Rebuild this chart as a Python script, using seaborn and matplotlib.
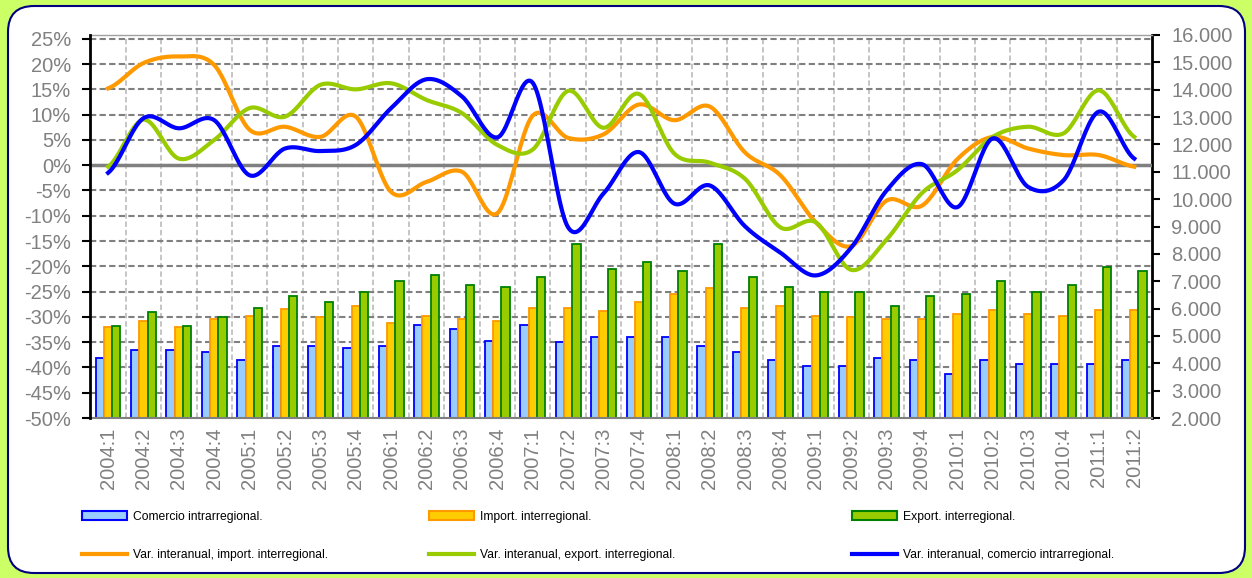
import numpy as np
import pandas as pd
import matplotlib
matplotlib.use("Agg")
import matplotlib.pyplot as plt
import seaborn as sns
from matplotlib.patches import FancyBboxPatch, Patch
from matplotlib.lines import Line2D
from matplotlib.ticker import FuncFormatter
from matplotlib.transforms import IdentityTransform

# datos
periodos = ["2004:1", "2004:2", "2004:3", "2004:4", "2005:1", "2005:2", "2005:3", "2005:4",
            "2006:1", "2006:2", "2006:3", "2006:4", "2007:1", "2007:2", "2007:3", "2007:4",
            "2008:1", "2008:2", "2008:3", "2008:4", "2009:1", "2009:2", "2009:3", "2009:4",
            "2010:1", "2010:2", "2010:3", "2010:4", "2011:1", "2011:2"]

comercio_intra = [4200, 4480, 4480, 4400, 4130, 4620, 4620, 4550, 4620, 5390, 5250, 4830, 5390, 4770, 4970,
                  4970, 4970, 4620, 4400, 4130, 3910, 3910, 4200, 4120, 3620, 4120, 3970, 3970, 3970, 4120]
import_inter = [5320, 5550, 5330, 5610, 5740, 5970, 5680, 6110, 5460, 5740, 5610, 5530, 6030, 6030, 5900,
                6250, 6520, 6740, 6030, 6110, 5740, 5680, 5610, 5610, 5810, 5960, 5810, 5740, 5960, 5960]
export_inter = [5370, 5890, 5370, 5680, 6030, 6460, 6240, 6610, 7020, 7230, 6870, 6800, 7150, 8360, 7430,
                7710, 7370, 8360, 7150, 6800, 6590, 6590, 6090, 6450, 6520, 7010, 6590, 6870, 7510, 7360]

var_import = [15.2, 20.2, 21.5, 19.8, 7.0, 7.6, 5.6, 9.6, -5.3, -3.3, -1.3, -9.5, 9.8, 5.4, 6.1,
              12.0, 8.9, 11.6, 2.5, -2.0, -11.3, -16.0, -7.0, -8.0, 1.2, 5.6, 3.3, 2.0, 2.0, -0.3]
var_export = [-0.3, 9.0, 1.3, 5.0, 11.3, 9.6, 15.9, 15.0, 16.2, 12.9, 10.3, 4.0, 3.1, 14.7, 7.4,
              14.1, 2.3, 0.5, -2.7, -12.3, -11.3, -20.7, -14.7, -5.5, -1.0, 5.6, 7.6, 6.3, 14.8, 5.6]
var_comercio = [-1.5, 9.3, 7.3, 8.9, -2.0, 3.3, 2.8, 4.0, 11.3, 17.0, 13.6, 5.5, 16.3, -12.3, -5.6,
                2.6, -7.6, -4.0, -12.1, -17.3, -21.8, -16.3, -5.0, 0.2, -8.3, 5.3, -4.3, -3.0, 10.6, 1.3]

series_barras = ["Comercio intrarregional.", "Import. interregional.", "Export. interregional."]
series_lineas = ["Var. interanual, import. interregional.", "Var. interanual, export. interregional.",
                 "Var. interanual, comercio intrarregional."]

relleno = ["#99ccff", "#ffcc00", "#99cc00"]
borde = ["#0000ff", "#ff9900", "#008000"]
color_lineas = ["#ff9900", "#99cc00", "#0000ff"]


def suavizar(y, n=24):
    # curva suavizada tipo Excel (Catmull-Rom)
    y = np.asarray(y, float)
    p = np.concatenate([[y[0]], y, [y[-1]]])
    xs, ys = [], []
    t = np.linspace(0, 1, n, endpoint=False)
    for i in range(len(y) - 1):
        p0, p1, p2, p3 = p[i], p[i + 1], p[i + 2], p[i + 3]
        ys.append(0.5 * (2 * p1 + (-p0 + p2) * t + (2 * p0 - 5 * p1 + 4 * p2 - p3) * t ** 2
                         + (-p0 + 3 * p1 - 3 * p2 + p3) * t ** 3))
        xs.append(i + t)
    xs.append([len(y) - 1])
    ys.append([y[-1]])
    return np.concatenate(xs), np.concatenate(ys)


plt.rcParams["font.family"] = ["Liberation Sans", "DejaVu Sans"]

W, H = 1252, 578
fig = plt.figure(figsize=(W / 100, H / 100), dpi=100, facecolor="#ccff66")
fig.add_artist(FancyBboxPatch((8, 5), 1237, 567, boxstyle="round,pad=0,rounding_size=26",
                              transform=IdentityTransform(), facecolor="white",
                              edgecolor="#000080", lw=1.5, zorder=-5))

left, right, top, bottom = 90.4, 1152, 35, 418
ax = fig.add_axes([left / W, 1 - bottom / H, (right - left) / W, (bottom - top) / H])
ax.set_facecolor("white")

df = pd.DataFrame({
    "periodo": periodos * 3,
    "serie": [s for s in series_barras for _ in periodos],
    "valor": comercio_intra + import_inter + export_inter,
})
sns.barplot(data=df, x="periodo", y="valor", hue="serie", hue_order=series_barras,
            palette=relleno, saturation=1, width=0.7, errorbar=None, legend=False, ax=ax)
for cont, ec in zip(ax.containers, borde):
    for bar in cont:
        bar.set_edgecolor(ec)
        bar.set_linewidth(1.3)

pmin, pmax = -50, 25.75
vmin, vmax = 2000, 16000
ax.set_xlim(-0.5, len(periodos) - 0.5)
ax.set_ylim(vmin, vmax)
ax.set_xlabel("")
ax.set_ylabel("")
ax.set_yticks(np.arange(2000, 16001, 1000))
ax.yaxis.set_major_formatter(FuncFormatter(lambda v, _: f"{int(v):,}".replace(",", ".")))
ax.tick_params(axis="x", which="major", length=0, pad=7, labelsize=14.5, labelcolor="#808080",
               labelrotation=90)

# rejilla: horizontales segun el eje de porcentajes
pct_ticks = np.arange(-50, 26, 5)
ax.set_yticks(vmin + (pct_ticks - pmin) / (pmax - pmin) * (vmax - vmin), minor=True)
ax.set_xticks(np.arange(0.5, len(periodos) - 1, 1), minor=True)
ax.tick_params(which="minor", length=0)
ax.yaxis.grid(True, which="minor", color="#808080", ls=(0, (3, 1.6)), lw=1.5)
ax.xaxis.grid(True, which="minor", color="#c0c0c0", ls=(0, (3, 1.6)), lw=1.3)
ax.set_axisbelow(True)

ax.spines["left"].set_visible(False)
ax.spines["right"].set_color("black")
ax.spines["right"].set_linewidth(2)
ax.spines["top"].set_color("#a0a0a0")
ax.spines["top"].set_linewidth(1)
ax.spines["bottom"].set_color("#808080")
ax.spines["bottom"].set_linewidth(1.5)

ax2 = ax.twinx()
# twinx pone las marcas del eje original a la izquierda: se devuelven a la derecha
ax.yaxis.tick_right()
ax.tick_params(axis="y", which="major", right=True, left=False, labelright=True, labelleft=False,
               length=6, width=1.5, color="black", pad=8, labelsize=14.5, labelcolor="#808080")
ax.tick_params(axis="y", which="minor", length=0, left=False, right=False)

ax2.set_ylim(pmin, pmax)
ax2.set_yticks(pct_ticks)
ax2.yaxis.set_major_formatter(FuncFormatter(lambda v, _: f"{v:.0f}%"))
ax2.yaxis.tick_left()
ax2.tick_params(axis="y", left=True, right=False, labelleft=True, labelright=False,
                length=6, width=1.5, color="black", pad=8, labelsize=14.5, labelcolor="#808080")
for s in ["right", "top", "bottom"]:
    ax2.spines[s].set_visible(False)
ax2.spines["left"].set_color("black")
ax2.spines["left"].set_linewidth(2)

ax2.axhline(0, color="#808080", lw=2.5, zorder=1)
for datos, col in zip([var_import, var_export, var_comercio], color_lineas):
    xs, ys = suavizar(datos)
    sns.lineplot(x=xs, y=ys, sort=False, estimator=None, color=col, linewidth=3, ax=ax2, zorder=3)
ax2.set_xlim(-0.5, len(periodos) - 0.5)

# leyenda en tres columnas
manejadores = [Patch(facecolor=f, edgecolor=e, lw=1.5) for f, e in zip(relleno, borde)]
manejadores += [Line2D([], [], color=c, lw=3) for c in color_lineas]
columnas_x = [82, 429, 852]
for k, x in enumerate(columnas_x):
    fig.legend(handles=[manejadores[k], manejadores[k + 3]],
               labels=[series_barras[k], series_lineas[k]],
               loc="center left", bbox_to_anchor=(x / W, 1 - 536 / H), frameon=False,
               fontsize=8.7, handlelength=3.7, handleheight=0.7, handletextpad=0.5,
               labelspacing=2.2, borderpad=0, borderaxespad=0)

fig.savefig("out.png", dpi=100, facecolor=fig.get_facecolor())
